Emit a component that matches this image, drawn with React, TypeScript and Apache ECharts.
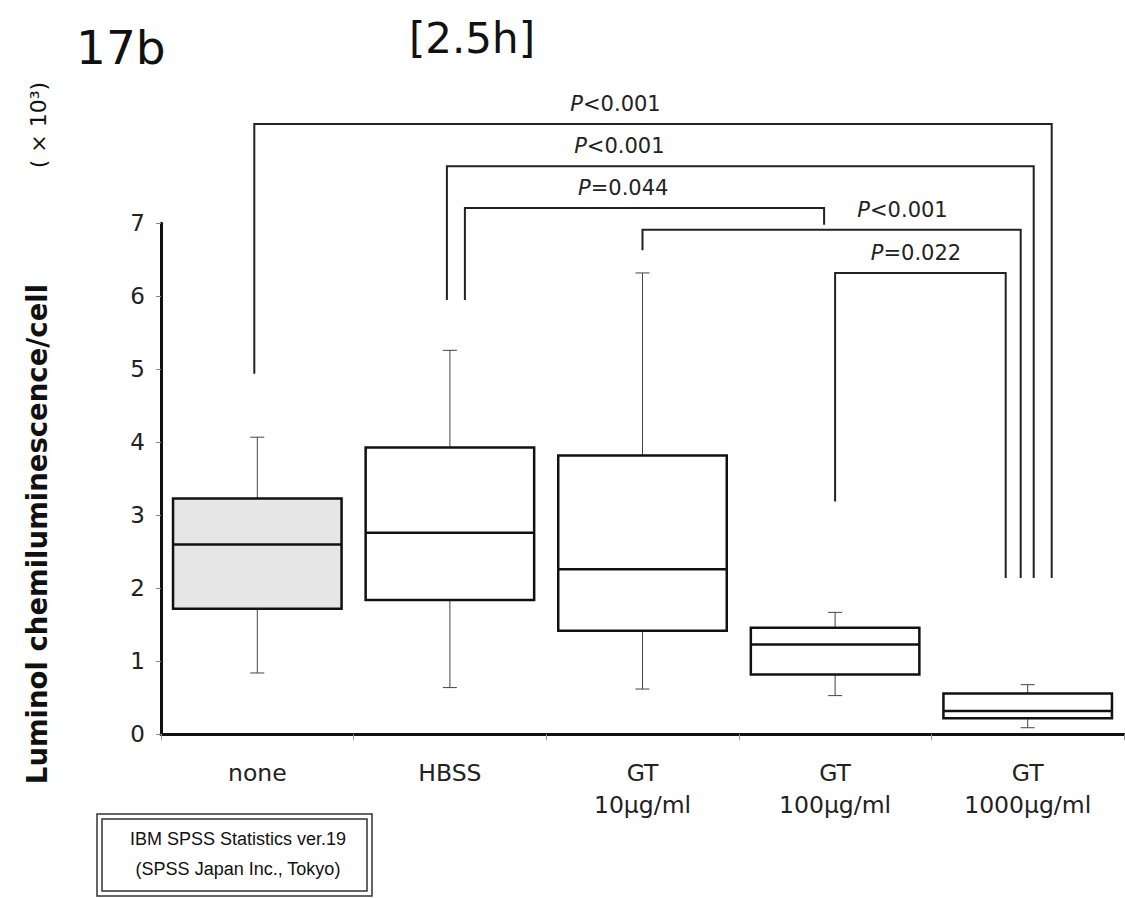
import React, { useEffect, useRef } from "react";
import * as echarts from "echarts";

// ---- data ----
const categories = ["none", "HBSS", "GT\n10μg/ml", "GT\n100μg/ml", "GT\n1000μg/ml"];
const whiskerLow = [0.84, 0.64, 0.62, 0.53, 0.09];
const quartile1 = [1.72, 1.84, 1.42, 0.82, 0.22];
const medians = [2.6, 2.76, 2.26, 1.23, 0.32];
const quartile3 = [3.23, 3.93, 3.82, 1.46, 0.56];
const whiskerHigh = [4.07, 5.26, 6.32, 1.67, 0.68];
const yTickMin = 0;
const yTickMax = 7;
const yTickStep = 1;

// significance brackets (category indices, levels in axis units)
const bracketFrom = [0, 1, 1, 2, 3];
const bracketTo = [4, 4, 3, 4, 4];
const bracketTop = [8.36, 7.78, 7.21, 6.91, 6.32];
const bracketFromEnd = [4.94, 5.95, 5.95, 6.63, 3.19];
const bracketToEnd = [2.14, 2.14, 6.98, 2.14, 2.14];
const bracketLabels = ["<0.001", "<0.001", "=0.044", "<0.001", "=0.022"];
const bracketLabelAt = [1.86, 1.88, 1.9, 3.35, 3.42];

// leg offsets in pixels (styling)
const legFromDx = [-3, -3, 15, 0, 0];
const legToDx = [24, 6, -11, -7, -22];

const FONT = "DejaVu Sans";
const NOTE_FONT = "Liberation Sans, Arial";

export default function App() {
  const ref = useRef<HTMLDivElement>(null);

  useEffect(() => {
    if (!ref.current) return;
    const chart = echarts.init(ref.current, null, { renderer: "svg" });

    const boxData = categories.map((_, i) => [
      i,
      whiskerLow[i],
      quartile1[i],
      medians[i],
      quartile3[i],
      whiskerHigh[i],
    ]);

    const bracketData = bracketFrom.map((f, i) => [
      f,
      bracketTo[i],
      bracketTop[i],
      bracketFromEnd[i],
      bracketToEnd[i],
      bracketLabelAt[i],
    ]);

    const option: any = {
      animation: false,
      backgroundColor: "#ffffff",
      grid: { left: 161, right: 1, top: 223.3, bottom: 163.7, containLabel: false },
      xAxis: {
        type: "category",
        data: categories,
        boundaryGap: true,
        axisLine: { show: true, lineStyle: { color: "#111", width: 3 } },
        axisTick: { show: true, length: 6, lineStyle: { color: "#999", width: 1 } },
        axisLabel: {
          fontSize: 23.5,
          lineHeight: 32,
          margin: 23,
          color: "#222",
          fontFamily: FONT,
        },
        splitLine: { show: false },
      },
      yAxis: {
        type: "value",
        min: yTickMin,
        max: yTickMax,
        interval: yTickStep,
        axisLine: { show: true, lineStyle: { color: "#111", width: 3 } },
        axisTick: { show: true, length: 5, lineStyle: { color: "#888", width: 1 } },
        axisLabel: { fontSize: 23, color: "#222", margin: 16, fontFamily: FONT },
        splitLine: { show: false },
      },
      series: [
        {
          type: "custom",
          name: "box",
          data: boxData,
          encode: { x: 0, y: [1, 2, 3, 4, 5] },
          renderItem: (params: any, api: any) => {
            const idx = api.value(0);
            const w = api.size([1, 0])[0] * 0.875;
            const cx = api.coord([idx, 0])[0];
            const yLo = api.coord([idx, api.value(1)])[1];
            const yQ1 = api.coord([idx, api.value(2)])[1];
            const yMed = api.coord([idx, api.value(3)])[1];
            const yQ3 = api.coord([idx, api.value(4)])[1];
            const yHi = api.coord([idx, api.value(5)])[1];
            const cap = 7;
            const thin = { stroke: "#444", lineWidth: 1 };
            const thick = { stroke: "#111", lineWidth: 2.5 };
            return {
              type: "group",
              children: [
                { type: "line", shape: { x1: cx, y1: yQ3, x2: cx, y2: yHi }, style: thin },
                { type: "line", shape: { x1: cx, y1: yQ1, x2: cx, y2: yLo }, style: thin },
                { type: "line", shape: { x1: cx - cap, y1: yHi, x2: cx + cap, y2: yHi }, style: thin },
                { type: "line", shape: { x1: cx - cap, y1: yLo, x2: cx + cap, y2: yLo }, style: thin },
                {
                  type: "rect",
                  shape: { x: cx - w / 2, y: yQ3, width: w, height: yQ1 - yQ3 },
                  style: { fill: idx === 0 ? "#e6e6e6" : "#ffffff", stroke: "#111", lineWidth: 2.5 },
                },
                { type: "line", shape: { x1: cx - w / 2, y1: yMed, x2: cx + w / 2, y2: yMed }, style: thick },
              ],
            };
          },
          z: 2,
        },
        {
          type: "custom",
          name: "brackets",
          clip: false,
          data: bracketData,
          encode: { x: [0, 1, 5], y: [2, 3, 4] },
          renderItem: (params: any, api: any) => {
            const k = params.dataIndex;
            const x0 = api.coord([0, 0])[0];
            const step = api.coord([1, 0])[0] - x0;
            const xa = x0 + step * api.value(0) + legFromDx[k];
            const xb = x0 + step * api.value(1) + legToDx[k];
            const yt = api.coord([0, api.value(2)])[1];
            const ya = api.coord([0, api.value(3)])[1];
            const yb = api.coord([0, api.value(4)])[1];
            const xl = x0 + step * api.value(5);
            return {
              type: "group",
              children: [
                {
                  type: "polyline",
                  shape: { points: [[xa, ya], [xa, yt], [xb, yt], [xb, yb]] },
                  style: { stroke: "#222", lineWidth: 2, fill: "none" },
                },
                {
                  type: "text",
                  x: xl,
                  y: yt - 20,
                  style: {
                    text: "{i|P}" + bracketLabels[k],
                    fontSize: 21,
                    fontFamily: FONT,
                    fill: "#222",
                    align: "center",
                    verticalAlign: "middle",
                    rich: {
                      i: { fontStyle: "italic", fontSize: 21, fontFamily: FONT, fill: "#222" },
                    },
                  },
                },
              ],
            };
          },
          z: 3,
        },
      ],
      graphic: [
        {
          type: "text",
          x: 76,
          y: 47,
          style: { text: "17b", fontSize: 47, fontFamily: FONT, fill: "#111", align: "left", verticalAlign: "middle" },
        },
        {
          type: "text",
          x: 472,
          y: 38,
          style: { text: "[2.5h]", fontSize: 42, fontFamily: FONT, fill: "#111", align: "center", verticalAlign: "middle" },
        },
        {
          type: "text",
          x: 37,
          y: 534,
          rotation: Math.PI / 2,
          style: {
            text: "Luminol chemiluminescence/cell",
            fontSize: 27.5,
            fontWeight: "bold",
            fontFamily: FONT,
            fill: "#111",
            align: "center",
            verticalAlign: "middle",
          },
        },
        {
          type: "text",
          x: 38,
          y: 125,
          rotation: Math.PI / 2,
          style: {
            text: "( × 10³)",
            fontSize: 22,
            fontFamily: FONT,
            fill: "#111",
            align: "center",
            verticalAlign: "middle",
          },
        },
        {
          type: "rect",
          shape: { x: 97, y: 814, width: 275, height: 82 },
          style: { fill: "#fff", stroke: "#333", lineWidth: 1.5 },
        },
        {
          type: "rect",
          shape: { x: 102, y: 819, width: 265, height: 72 },
          style: { fill: "none", stroke: "#333", lineWidth: 1.5 },
        },
        {
          type: "text",
          x: 238,
          y: 839,
          style: {
            text: "IBM SPSS Statistics ver.19",
            fontSize: 18,
            fontFamily: NOTE_FONT,
            fill: "#111",
            align: "center",
            verticalAlign: "middle",
          },
        },
        {
          type: "text",
          x: 238,
          y: 869,
          style: {
            text: "(SPSS Japan Inc., Tokyo)",
            fontSize: 18,
            fontFamily: NOTE_FONT,
            fill: "#111",
            align: "center",
            verticalAlign: "middle",
          },
        },
      ],
    };

    chart.setOption(option);
    return () => chart.dispose();
  }, []);

  return (
    <div
      ref={ref}
      style={{ position: "absolute", left: 0, top: 0, width: 1125, height: 898, background: "#fff" }}
    />
  );
}
